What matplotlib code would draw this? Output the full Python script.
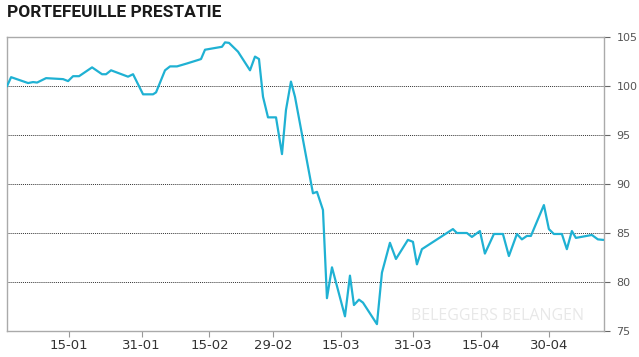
import matplotlib
matplotlib.use("Agg")
import matplotlib.pyplot as plt
import matplotlib.dates as mdates
import pandas as pd

# days since 2020-01-01
days = [0.31, 1.2, 4.95, 6.05, 6.94, 8.92, 12.68, 13.78, 14.88, 16.21,
        19.08, 21.28, 22.17, 23.27, 27.02, 28.13, 30.34, 32.54, 33.21, 35.19,
        36.3, 37.84, 40.05, 42.48, 43.14, 44.02, 47.77, 48.44, 49.32, 51.31,
        53.96, 55.06, 55.94, 56.83, 57.93, 59.7, 61.02, 61.9, 63.0, 63.89,
        67.86, 68.75, 70.07, 70.95, 72.06, 74.93, 76.03, 76.91, 78.02, 78.9,
        81.99, 83.09, 84.86, 86.19, 88.83, 89.94, 90.82, 91.92, 98.77, 99.65,
        101.86, 102.96, 104.73, 105.83, 107.82, 109.81, 111.13, 112.9, 114.0, 115.1,
        115.99, 118.86, 119.96, 121.06, 122.83, 123.93, 125.04, 125.92, 129.45, 130.78,
        131.88]
values = [100.0, 100.9, 100.3, 100.4, 100.35, 100.8, 100.7, 100.5, 101.0, 101.0,
          101.9, 101.2, 101.2, 101.6, 100.95, 101.2, 99.15, 99.15, 99.35, 101.6,
          102.0, 102.0, 102.3, 102.65, 102.75, 103.7, 104.0, 104.45, 104.4, 103.5,
          101.6, 103.0, 102.75, 98.9, 96.8, 96.8, 93.05, 97.55, 100.45, 98.9,
          89.05, 89.2, 87.35, 78.35, 81.5, 76.5, 80.65, 77.65, 78.2, 77.9,
          75.7, 80.95, 84.0, 82.35, 84.3, 84.1, 81.8, 83.35, 85.4, 85.0,
          85.0, 84.6, 85.2, 82.9, 84.9, 84.9, 82.65, 84.9, 84.35, 84.7,
          84.7, 87.85, 85.4, 84.9, 84.9, 83.35, 85.2, 84.5, 84.8, 84.35,
          84.3]

tick_dates = ["2020-01-15", "2020-01-31", "2020-02-15", "2020-02-29",
              "2020-03-15", "2020-03-31", "2020-04-15", "2020-04-30"]
y_ticks = [75, 80, 85, 90, 95, 100, 105]

start = pd.Timestamp("2020-01-01")
dates = start + pd.to_timedelta(days, unit="D")

fig = plt.figure(figsize=(6.39, 3.57), dpi=100)
ax = fig.add_axes([0.011, 0.0728, 0.934, 0.8236])

ax.plot(dates, values, color="#1fb1d3", linewidth=1.6, zorder=3)

ax.set_xlim(start + pd.Timedelta(days=0.3), start + pd.Timedelta(days=132.1))
ax.set_ylim(75, 105)

ax.set_xticks(pd.to_datetime(tick_dates))
ax.xaxis.set_major_formatter(mdates.DateFormatter("%d-%m"))
ax.set_yticks(y_ticks)
ax.yaxis.tick_right()

for y in [80, 85, 90, 95, 100]:
    ax.axhline(y, color="#333333", linestyle=(0, (1, 1)), linewidth=0.7, zorder=1)

for s in ax.spines.values():
    s.set_color("#aaaaaa")
    s.set_linewidth(1.0)

ax.tick_params(axis="x", length=4, color="#999999", labelsize=9.5,
               labelcolor="#333333", pad=2)
ax.tick_params(axis="y", length=4, color="#666666", labelsize=8,
               labelcolor="#555555", pad=5)

fig.text(0.011, 0.985, "PORTEFEUILLE PRESTATIE", ha="left", va="top",
         fontsize=12.5, fontweight="bold", color="#1a1a1a",
         family=["Liberation Sans Narrow", "Roboto", "DejaVu Sans"])

ax.text(0.822, 0.025, "BELEGGERS BELANGEN", transform=ax.transAxes,
        ha="center", va="bottom", fontsize=11.5, color="#e8e8e8",
        family=["Open Sans", "DejaVu Sans"], zorder=2)

fig.savefig("out.png", dpi=100)
